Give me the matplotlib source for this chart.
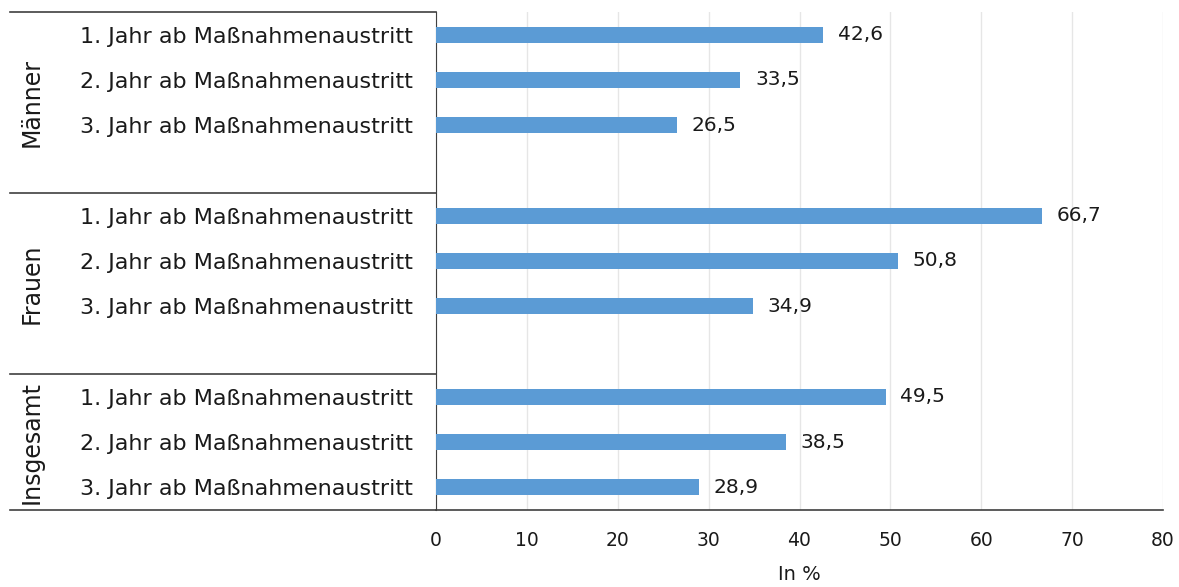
import matplotlib.pyplot as plt
import matplotlib.transforms as mtransforms

groups = ['Männer', 'Frauen', 'Insgesamt']
years = ['1. Jahr ab Maßnahmenaustritt',
         '2. Jahr ab Maßnahmenaustritt',
         '3. Jahr ab Maßnahmenaustritt']
maenner = [42.6, 33.5, 26.5]
frauen = [66.7, 50.8, 34.9]
insgesamt = [49.5, 38.5, 28.9]
xticks = [0, 10, 20, 30, 40, 50, 60, 70, 80]

plt.rcParams['font.family'] = ['DejaVu Sans']

W, H = 1179, 587
fig = plt.figure(figsize=(W / 100, H / 100), dpi=100)
left, right, top, bottom = 436, 1163, 12, 510
ax = fig.add_axes([left / W, 1 - bottom / H, (right - left) / W, (bottom - top) / H])

# slot layout: 3 bars + blank per group, last group without blank
series = [maenner, frauen, insgesamt]
ypos, vals, labels = [], [], []
group_spans = []
slot = 0
for gi, s in enumerate(series):
    start = slot
    for yi, v in enumerate(s):
        ypos.append(slot)
        vals.append(v)
        labels.append(years[yi])
        slot += 1
    if gi < len(series) - 1:
        slot += 1
    group_spans.append((start - 0.5, slot - 0.5))
nslots = slot

ax.barh(ypos, vals, height=0.35, color='#5B9BD5', zorder=3)
for y, v in zip(ypos, vals):
    ax.text(v + 1.6, y, f'{v:.1f}'.replace('.', ','), va='center', ha='left',
            fontsize=14.5, color='#1a1a1a')

ax.set_ylim(nslots - 0.5, -0.5)
ax.set_xlim(0, 80)
ax.set_xticks(xticks)
ax.set_xticklabels([str(t) for t in xticks], fontsize=13.5, color='#1a1a1a')
ax.tick_params(axis='x', length=0, pad=15)
ax.set_yticks(ypos)
ax.set_yticklabels(labels, fontsize=16, color='#1a1a1a')
ax.tick_params(axis='y', length=0, pad=17)
ax.set_xlabel('In %', fontsize=14, color='#1a1a1a', labelpad=11)

ax.grid(axis='x', color='#e6e6e6', linewidth=1, zorder=0)
for sp in ['top', 'right']:
    ax.spines[sp].set_visible(False)
ax.spines['left'].set_color('#404040')
ax.spines['bottom'].set_color('#404040')
ax.spines['bottom'].set_linewidth(1.2)

# group separators and rotated group labels
trans = mtransforms.blended_transform_factory(ax.transAxes, ax.transData)
x0 = (10 - left) / (right - left)
for gi, (a, b) in enumerate(group_spans):
    ax.plot([x0, 0], [a, a], transform=trans, color='#404040', lw=1.2, clip_on=False)
    ax.text((32 - left) / (right - left), (a + b) / 2, groups[gi], transform=trans,
            rotation=90, ha='center', va='center', fontsize=17, color='#1a1a1a')
ax.plot([x0, 0], [nslots - 0.5, nslots - 0.5], transform=trans, color='#404040',
        lw=1.2, clip_on=False)

fig.savefig('out.png', dpi=100)
